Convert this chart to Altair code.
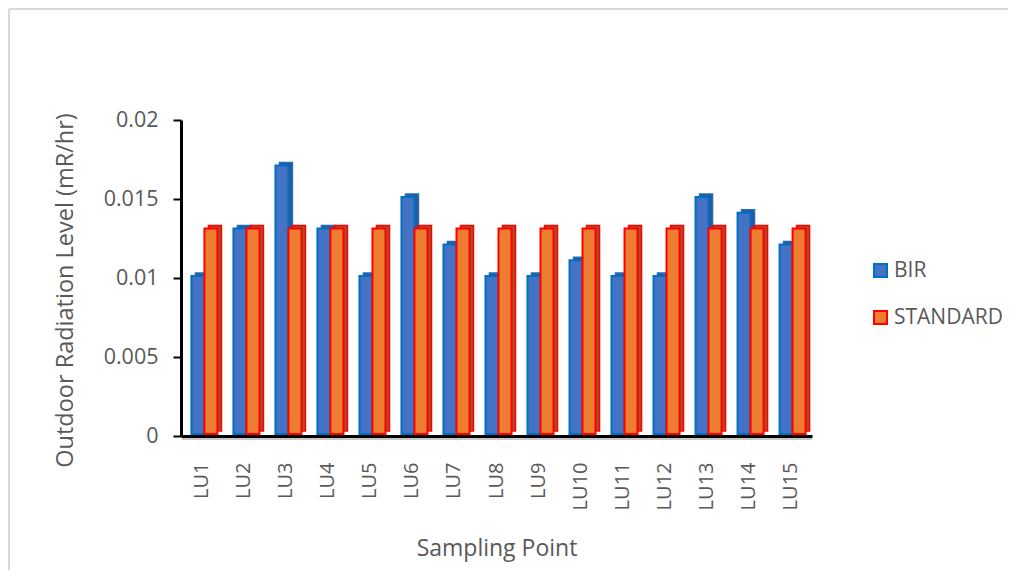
import altair as alt
import pandas as pd

points = ["LU1", "LU2", "LU3", "LU4", "LU5", "LU6", "LU7", "LU8", "LU9", "LU10",
          "LU11", "LU12", "LU13", "LU14", "LU15"]
bir = [0.010, 0.013, 0.017, 0.013, 0.010, 0.015, 0.012, 0.010, 0.010, 0.011,
       0.010, 0.010, 0.015, 0.014, 0.012]
standard = [0.013] * 15
series_names = ["BIR", "STANDARD"]
y_ticks = [0, 0.005, 0.01, 0.015, 0.02]

rows = []
for p, b, s in zip(points, bir, standard):
    rows.append({"point": p, "series": "BIR", "value": b, "dfill": "#2F5597", "dstroke": "#1F6FC0"})
    rows.append({"point": p, "series": "STANDARD", "value": s, "dfill": "#A5502A", "dstroke": "#FF0000"})
df = pd.DataFrame(rows)

W, H = 631, 316
TXT = "#595959"
FONT = "Open Sans"
P_IN, P_OUT = 0.38, 0.2
STEP = W / (len(points) - P_IN + 2 * P_OUT)
BW = STEP * (1 - P_IN)

x_enc = alt.X("point:N", sort=points, scale=alt.Scale(paddingInner=P_IN, paddingOuter=P_OUT),
              axis=alt.Axis(title="Sampling Point", labelAngle=-90, ticks=False,
                            labelPadding=26, labelFontSize=20, labelColor=TXT, labelFont=FONT,
                            titleFontSize=23, titleColor=TXT, titleFont=FONT, titleFontWeight="normal",
                            titleY=112, titleBaseline="middle",
                            domainColor="black", domainWidth=3))
y_enc = alt.Y("value:Q", scale=alt.Scale(domain=[0, 0.02]),
              axis=alt.Axis(title="Outdoor Radiation Level (mR/hr)", values=y_ticks, format=".3~f",
                            grid=False, tickSize=8, tickWidth=2, tickColor="black",
                            domainColor="black", domainWidth=3, labelPadding=15,
                            labelFontSize=21.5, labelColor=TXT, labelFont=FONT,
                            titleFontSize=23.5, titleColor=TXT, titleFont=FONT, titleFontWeight="normal",
                            titleX=-116, titleY=170, titleBaseline="middle", titleAngle=-90))

base = alt.Chart(pd.DataFrame({"a": [0]}))
top_line = base.mark_rule(color="#D9D9D9", strokeWidth=2).encode(
    x=alt.value(-172), x2=alt.value(W + 230), y=alt.value(-111))
left_line = base.mark_rule(color="#D9D9D9", strokeWidth=2).encode(
    x=alt.value(-172), y=alt.value(-111), y2=alt.value(H + 200))
shadow = base.mark_rule(color="#C8C8C8", strokeWidth=2).encode(
    x=alt.value(1), x2=alt.value(W), y=alt.value(H + 3))

depth = alt.Chart(df).mark_bar(yOffset=-5, strokeWidth=1.5).encode(
    x=x_enc, y=y_enc,
    xOffset=alt.XOffset("series:N", sort=series_names, scale=alt.Scale(range=[6, 6 + BW])),
    fill=alt.Fill("dfill:N", scale=None),
    stroke=alt.Stroke("dstroke:N", scale=None),
)

leg = dict(title=None, orient="none", legendX=689, legendY=140,
           symbolType="square", symbolSize=170, symbolStrokeWidth=2,
           labelFontSize=21, labelColor=TXT, labelFont=FONT,
           rowPadding=24, labelOffset=3)

front = alt.Chart(df).mark_bar(strokeWidth=2, yOffset=-2).encode(
    x=x_enc, y=y_enc,
    xOffset=alt.XOffset("series:N", sort=series_names, scale=alt.Scale(range=[2, 2 + BW])),
    fill=alt.Fill("series:N", sort=series_names,
                  scale=alt.Scale(domain=series_names, range=["#4472C4", "#ED7D31"]),
                  legend=alt.Legend(**leg)),
    stroke=alt.Stroke("series:N", sort=series_names,
                      scale=alt.Scale(domain=series_names, range=["#0070C0", "#FF0000"]),
                      legend=alt.Legend(**leg)),
)

chart = alt.layer(top_line, left_line, shadow, depth, front).resolve_scale(
    fill="independent", stroke="independent", xOffset="independent"
).properties(
    width=W, height=H,
    background="white",
    autosize=alt.AutoSizeParams(type="none"),
    padding={"left": 173, "top": 112, "right": 196, "bottom": 134},
).configure_view(strokeWidth=0, stroke="transparent")

chart.save("out.html", embed_options={"renderer": "svg", "actions": False})
